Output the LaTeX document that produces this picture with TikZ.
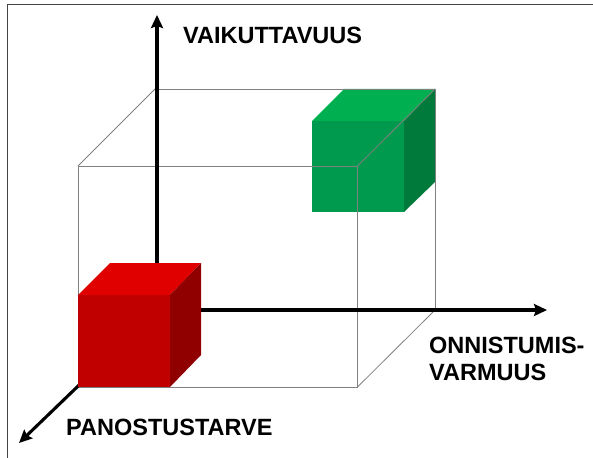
\documentclass[tikz,border=0pt]{standalone}
\usepackage{fontspec}
\setmainfont{Liberation Sans}
\usetikzlibrary{arrows.meta}
\definecolor{redtop}{HTML}{E00000}
\definecolor{redfront}{HTML}{C00000}
\definecolor{redside}{HTML}{900000}
\definecolor{greentop}{HTML}{00B050}
\definecolor{greenfront}{HTML}{009A4E}
\definecolor{greenside}{HTML}{007A3A}
\definecolor{wire}{HTML}{808080}
\definecolor{framecol}{HTML}{444444}
\tikzset{
  wireline/.style={draw=wire, line width=0.8pt},
  axisline/.style={line width=3.1pt, -{Stealth[length=13pt,width=12pt,inset=2pt]}},
  axislabel/.style={inner sep=0pt, font=\bfseries\fontsize{23.5}{27.5}\selectfont},
  framestyle/.style={draw=framecol, line width=1.3pt}
}
\begin{document}
\begin{tikzpicture}[x=1pt,y=-1pt]
\useasboundingbox (0,0) rectangle (593,457);
% frame
\draw[framestyle] (7.3,460) -- (7.3,4.7) -- (593,4.7);
% green cube
\fill[greentop] (312,121) -- (344,89) -- (435,89) -- (404,121) -- cycle;
\fill[greenfront] (312,121) rectangle (404,212);
\fill[greenside] (404,121) -- (435,89) -- (435,182) -- (404,212) -- cycle;
% wireframe cube
\coordinate (f1) at (78,166);
\coordinate (f2) at (357.5,166);
\coordinate (f3) at (357.5,387);
\coordinate (f4) at (78,387);
\coordinate (b1) at (155,89);
\coordinate (b2) at (435,89);
\coordinate (b3) at (435,310);
\coordinate (b4) at (155,310);
\draw[wireline] (f1) -- (f2) -- (f3) -- (f4) -- cycle;
\draw[wireline] (b1) -- (b2) -- (b3) -- (b4) -- cycle;
\draw[wireline] (f1) -- (b1) (f2) -- (b2) (f3) -- (b3) (f4) -- (b4);
% axes
\coordinate (O) at (157,310);
\coordinate (ytip) at (157,15);
\coordinate (xtip) at (547,310);
\coordinate (ztip) at (19,443);
\draw[axisline] (O) -- (ytip);
\draw[axisline] (O) -- (xtip);
\draw[axisline] (O) -- (ztip);
% red cube
\fill[redtop] (78,295) -- (110,263) -- (201,263) -- (170,295) -- cycle;
\fill[redfront] (78,295) rectangle (170,387);
\fill[redside] (170,295) -- (201,263) -- (201,355) -- (170,387) -- cycle;
% labels
\node[axislabel, anchor=base west] (lv) at (183,44) {VAIKUTTAVUUS};
\node[axislabel, anchor=north west, align=left] (lo) at (429,336.5) {ONNISTUMIS-\\VARMUUS};
\node[axislabel, anchor=base west] (lp) at (66,435) {PANOSTUSTARVE};
\end{tikzpicture}
\end{document}
